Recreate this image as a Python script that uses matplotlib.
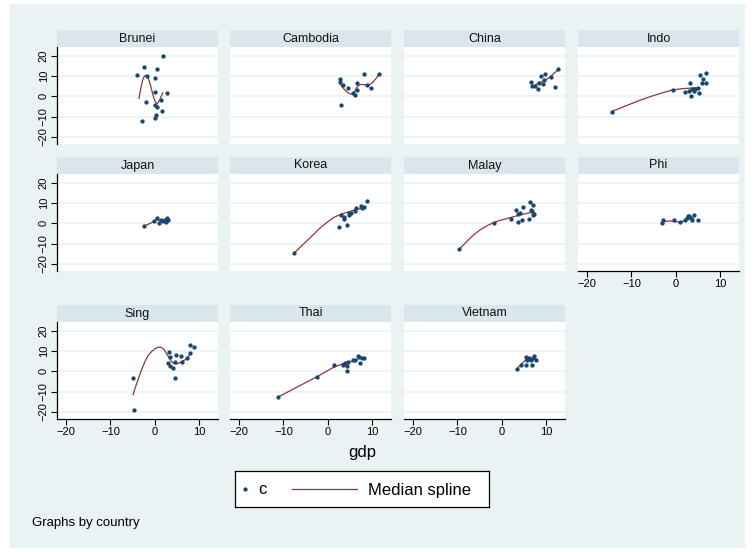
import matplotlib
matplotlib.use("Agg")
import matplotlib.pyplot as plt
from matplotlib.patches import Rectangle

plt.rcParams['font.family'] = ['Liberation Sans', 'DejaVu Sans']

# values: x = gdp, y = c
countries = ['Brunei', 'Cambodia', 'China', 'Indo', 'Japan', 'Korea',
             'Malay', 'Phi', 'Sing', 'Thai', 'Vietnam']

brunei_gdp = [-4.0, -2.5, 1.8, 0.4, -1.8, 0.1, 0.1, 2.8, -1.9, 1.3, 0.0, 0.4, 1.6, 0.3, 0.1, -3.0]
brunei_c = [10.5, 14.5, 19.7, 13.7, 10.2, 9.0, 2.0, 1.7, -2.7, -1.7, -4.5, -5.5, -7.3, -9.3, -10.5, -12.2]
brunei_sx = [-3.56, -3.3, -3.0, -2.7, -2.4, -2.1, -1.8, -1.5, -1.2, -0.9, -0.6, -0.3,
             0.0, 0.3, 0.6, 0.9, 1.2, 1.5, 1.78]
brunei_sy = [-1.0, 2.2, 5.6, 8.2, 9.8, 10.3, 10.0, 9.0, 7.2, 4.8, 2.2, -0.3,
             -2.2, -3.3, -3.5, -2.6, -1.2, 0.3, 1.7]

cambodia_gdp = [2.67, 2.67, 3.4, 4.6, 3.0, 5.7, 6.0, 6.6, 6.6, 8.1, 8.8, 9.6, 11.5]
cambodia_c = [8.3, 7.0, 5.5, 4.3, -4.2, 1.8, 0.5, 3.2, 6.7, 11.0, 5.5, 4.2, 11.0]
cambodia_sx = [2.67, 3.1, 3.6, 4.2, 4.7, 5.2, 5.7, 6.1, 6.4, 6.8, 7.3, 8.0, 8.8, 9.4, 9.9, 10.7, 11.5]
cambodia_sy = [6.5, 5.0, 3.7, 2.4, 1.5, 1.1, 1.2, 2.6, 4.0, 5.2, 5.8, 5.8, 5.5, 5.8, 6.5, 8.4, 10.8]

china_gdp = [6.5, 6.8, 7.4, 8.1, 8.3, 8.7, 9.6, 9.5, 9.3, 11.0, 11.9, 12.7]
china_c = [7.2, 5.3, 5.2, 3.7, 6.7, 10.2, 11.0, 8.2, 6.3, 9.7, 4.8, 13.3]
china_sx = [7.3, 8.3, 9.3, 11.0, 12.7]
china_sy = [5.2, 6.8, 7.3, 9.8, 13.2]

indo_gdp = [-14.4, -0.6, 2.1, 3.0, 3.1, 3.4, 3.6, 4.1, 4.3, 4.9, 5.3, 5.5, 6.1, 5.8, 6.7, 6.8]
indo_c = [-7.5, 3.3, 2.3, 2.8, 6.7, 0.3, 3.8, 2.7, 3.7, 4.2, 1.5, 10.5, 8.5, 6.5, 11.5, 6.5]
indo_sx = [-14.4, -12.3, -10.2, -8.0, -5.8, -3.5, -1.3, 0.2, 1.6, 3.1, 4.6]
indo_sy = [-7.5, -5.6, -3.8, -1.9, -0.2, 1.4, 2.8, 3.4, 3.8, 4.0, 4.2]

japan_gdp = [-2.4, -0.3, 0.4, 1.0, 1.3, 1.8, 2.2, 2.5, 2.8, 3.0]
japan_c = [-1.3, 1.3, 2.7, 0.2, 1.7, 1.3, 1.8, 0.5, 2.7, 1.7]
japan_sx = [-2.4, -0.7, 0.4, 1.5, 2.8]
japan_sy = [-1.3, 0.3, 2.0, 1.0, 2.2]

korea_gdp = [-7.5, 2.6, 4.2, 3.0, 3.6, 3.6, 4.8, 5.1, 4.8, 6.0, 6.3, 7.5, 7.6, 8.2, 8.7]
korea_c = [-14.5, -1.8, -0.8, 4.3, 3.0, 2.2, 5.0, 5.3, 4.0, 6.0, 7.5, 8.5, 7.7, 8.0, 11.0]
korea_sx = [-7.5, -6.0, -4.5, -3.0, -1.6, -0.1, 1.4, 2.9, 4.4, 6.2, 8.1]
korea_sy = [-14.5, -11.3, -8.2, -5.0, -2.0, 0.6, 3.0, 4.4, 5.5, 6.7, 7.7]

malay_gdp = [-9.6, -1.8, 2.1, 3.1, 3.7, 4.0, 3.7, 4.7, 4.6, 6.1, 6.4, 6.5, 6.7, 7.1, 7.1, 7.3]
malay_c = [-12.8, 0.3, 2.3, 6.8, 4.8, 5.2, 0.7, 8.0, 1.7, 2.0, 10.7, 6.7, 6.0, 9.2, 4.0, 4.7]
malay_sx = [-9.6, -8.0, -6.5, -5.0, -3.6, -2.6, -1.8, -0.5, 0.9, 2.4, 3.9, 5.2, 6.5]
malay_sy = [-12.8, -9.2, -6.0, -3.4, -1.5, -0.4, 0.3, 1.4, 2.2, 3.1, 4.0, 4.7, 5.3]

phi_gdp = [-3.1, -2.8, -0.4, 1.0, 2.1, 2.4, 2.7, 3.0, 3.3, 3.6, 4.0, 5.0]
phi_c = [0.0, 1.5, 1.5, 0.7, 1.8, 2.8, 3.5, 3.5, 2.8, 1.5, 4.0, 1.5]
phi_sx = [-2.8, -1.3, 0.1, 1.2, 2.4, 3.1, 3.9]
phi_sy = [0.8, 1.2, 0.8, 0.5, 2.0, 2.8, 1.7]

sing_gdp = [-5.0, -4.7, 3.1, 3.4, 3.0, 3.3, 4.0, 4.6, 4.7, 4.6, 5.9, 6.2, 7.3, 8.0, 8.0, 8.7]
sing_c = [-3.3, -19.2, 9.5, 6.9, 4.3, 2.5, 1.5, 4.6, 7.9, -3.4, 7.5, 4.6, 6.6, 9.2, 12.8, 12.1]
sing_sx = [-4.9, -4.3, -3.7, -3.0, -2.2, -1.5, -0.7, 0.0, 0.7, 1.2, 1.6, 2.1, 2.5, 3.1,
           3.7, 4.2, 4.8, 5.3, 5.9, 6.4, 7.0, 7.5, 7.9]
sing_sy = [-11.5, -7.4, -3.6, 0.7, 4.9, 7.8, 9.8, 11.1, 11.8, 11.9, 11.6, 10.6, 9.2, 7.0,
           4.9, 3.9, 3.6, 3.9, 4.6, 5.2, 5.9, 7.0, 8.5]

thai_gdp = [-11.3, -2.4, 1.3, 3.3, 3.8, 4.2, 4.4, 4.5, 5.6, 6.1, 6.7, 6.9, 7.2, 7.6, 8.1]
thai_c = [-12.8, -2.6, 3.3, 3.3, 4.3, 0.3, 2.5, 4.6, 5.4, 5.7, 7.4, 6.9, 4.1, 6.4, 6.6]
thai_sx = [-11.3, -2.4, 1.3, 3.8, 6.7]
thai_sy = [-12.8, -2.6, 2.0, 4.1, 5.7]

vietnam_gdp = [3.4, 4.3, 5.5, 5.6, 5.5, 6.1, 6.5, 6.7, 7.0, 7.3, 7.6]
vietnam_c = [1.3, 3.3, 7.2, 5.6, 3.3, 6.6, 5.6, 3.3, 6.6, 7.5, 5.7]
vietnam_sx = [3.4, 4.6, 5.5, 6.2, 6.8, 7.6]
vietnam_sy = [1.3, 3.9, 5.9, 5.2, 6.2, 6.6]

gdp = [brunei_gdp, cambodia_gdp, china_gdp, indo_gdp, japan_gdp, korea_gdp,
       malay_gdp, phi_gdp, sing_gdp, thai_gdp, vietnam_gdp]
c = [brunei_c, cambodia_c, china_c, indo_c, japan_c, korea_c,
     malay_c, phi_c, sing_c, thai_c, vietnam_c]
spline_x = [brunei_sx, cambodia_sx, china_sx, indo_sx, japan_sx, korea_sx,
            malay_sx, phi_sx, sing_sx, thai_sx, vietnam_sx]
spline_y = [brunei_sy, cambodia_sy, china_sy, indo_sy, japan_sy, korea_sy,
            malay_sy, phi_sy, sing_sy, thai_sy, vietnam_sy]

xticks = [-20, -10, 0, 10]
yticks = [-20, -10, 0, 10, 20]

W, H = 755, 552
BG = '#EAF2F3'
STRIP = '#D9E6EB'
NAVY = '#1A476F'
MAROON = '#90353B'


def px_rect(x, y, w, h):
    # pixel box (top-left origin) -> figure fraction
    return [x / W, 1 - (y + h) / H, w / W, h / H]


fig = plt.figure(figsize=(W / 100, H / 100), dpi=100)
fig.patch.set_facecolor('white')
fig.patches.append(Rectangle((10 / W, 4 / H), 735 / W, 544 / H,
                             transform=fig.transFigure, facecolor=BG,
                             edgecolor='none', zorder=-10))

col_x = [57, 230, 404, 578]
row_y = [47, 174, 322]
pw, ph, sh = 161, 97, 17

bottom_axis = {7, 8, 9, 10}
left_axis = {0, 4, 8}

for i, name in enumerate(countries):
    r, k = divmod(i, 4)
    x0, y0 = col_x[k], row_y[r]

    strip = fig.add_axes(px_rect(x0, y0 - sh, pw, sh))
    strip.set_facecolor(STRIP)
    strip.set_xticks([])
    strip.set_yticks([])
    for s in strip.spines.values():
        s.set_visible(False)
    strip.text(0.5, 0.5, name, ha='center', va='center', fontsize=9,
               color='#111111', transform=strip.transAxes)

    ax = fig.add_axes(px_rect(x0, y0, pw, ph))
    ax.set_facecolor('white')
    ax.set_xlim(-22, 14.2)
    ax.set_ylim(-23.5, 24.3)
    for yv in yticks:
        ax.axhline(yv, color=BG, lw=1.2, zorder=0)

    ax.plot(gdp[i], c[i], 'o', color=NAVY, markersize=3.1, mew=0, zorder=3)
    ax.plot(spline_x[i], spline_y[i], '-', color=MAROON, lw=0.9, zorder=2)

    for s in ax.spines.values():
        s.set_visible(False)

    if i in left_axis:
        ax.spines['left'].set_visible(True)
        ax.spines['left'].set_linewidth(0.9)
        ax.set_yticks(yticks)
        ax.set_yticklabels([str(v).replace('-', '\u2212') for v in yticks],
                           rotation=90, va='center', fontsize=8)
        ax.tick_params(axis='y', length=4, width=0.8, pad=2)
    else:
        ax.set_yticks([])

    if i in bottom_axis:
        ax.spines['bottom'].set_visible(True)
        ax.spines['bottom'].set_linewidth(0.9)
        ax.set_xticks(xticks)
        ax.set_xticklabels([str(v).replace('-', '\u2212') for v in xticks],
                           fontsize=8)
        ax.tick_params(axis='x', length=4, width=0.8, pad=2)
    else:
        ax.set_xticks([])

fig.text(362 / W, 1 - 453 / H, 'gdp', ha='center', va='center', fontsize=12)

# legend box
leg = fig.add_axes(px_rect(235, 471, 254, 36))
leg.set_xlim(0, 254)
leg.set_ylim(0, 36)
leg.set_facecolor('white')
leg.set_xticks([])
leg.set_yticks([])
for s in leg.spines.values():
    s.set_linewidth(0.9)
leg.plot([10], [18], 'o', color=NAVY, markersize=3.1, mew=0)
leg.text(23, 17, 'c', ha='left', va='center', fontsize=12)
leg.plot([57, 122], [18, 18], '-', color=MAROON, lw=0.9)
leg.text(133, 17, 'Median spline', ha='left', va='center', fontsize=12)

fig.text(32 / W, 1 - 523 / H, 'Graphs by country', ha='left', va='center',
         fontsize=9.5)

fig.savefig('out.png', dpi=100)
